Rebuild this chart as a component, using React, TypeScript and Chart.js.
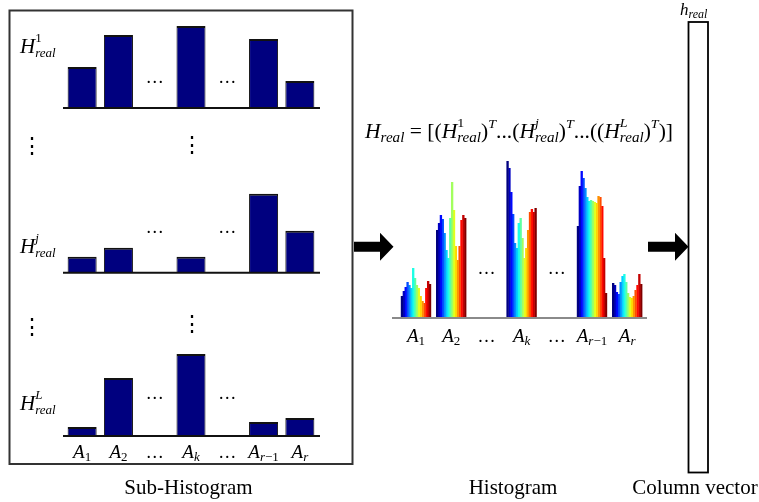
import React, { useEffect, useRef } from "react";
import { Chart, registerables } from "chart.js";

Chart.register(...registerables);

const W = 759;
const H = 502;
const SERIF = '"Liberation Serif", "Times New Roman", serif';

// ---- data ----
const categories = ["A1", "A2", "…", "Ak", "…", "Ar-1", "Ar"];
const tickMain = ["A", "A", "…", "A", "…", "A", "A"];
const tickSub = ["1", "2", "", "k", "", "r−1", "r"];

const hist1 = [41, 73, null, 82, null, 69, 27];
const histJ = [16, 25, null, 16, null, 79, 42];
const histL = [9, 58, null, 82, null, 14, 18];

const groupA1 = [22, 27, 31, 36, 33, 30, 50, 40, 33, 30, 22, 17, 15, 30, 37, 34];
const groupA2 = [88, 95, 103, 99, 85, 68, 60, 100, 136, 108, 72, 58, 72, 98, 103, 100];
const groupAk = [157, 150, 126, 104, 75, 70, 95, 100, 80, 60, 70, 88, 106, 109, 106, 110];
const groupAr1 = [92, 132, 147, 140, 130, 121, 117, 118, 117, 116, 115, 122, 121, 112, 60, 25];
const groupAr = [35, 33, 26, 24, 36, 42, 44, 36, 25, 21, 20, 22, 28, 33, 44, 34];

const groups = [groupA1, groupA2, null, groupAk, null, groupAr1, groupAr];

// ---- helpers ----
function jet(t: number) {
  const c = (v: number) => Math.max(0, Math.min(1, v));
  const r = c(1.5 - Math.abs(4 * t - 3));
  const g = c(1.5 - Math.abs(4 * t - 2));
  const b = c(1.5 - Math.abs(4 * t - 1));
  return `rgb(${Math.round(r * 255)},${Math.round(g * 255)},${Math.round(b * 255)})`;
}

type Run = { t: string; size: number; italic?: boolean; dy?: number; stack?: boolean };

function font(size: number, italic?: boolean) {
  return `${italic ? "italic " : ""}${size}px ${SERIF}`;
}

function runsWidth(ctx: CanvasRenderingContext2D, runs: Run[]) {
  let x = 0;
  let pending = 0;
  for (const r of runs) {
    ctx.font = font(r.size, r.italic);
    const w = ctx.measureText(r.t).width;
    if (r.stack) {
      pending = w;
    } else {
      x += Math.max(w, pending);
      pending = 0;
    }
  }
  return x + pending;
}

function drawRuns(ctx: CanvasRenderingContext2D, runs: Run[], x: number, y: number) {
  let pending = 0;
  for (const r of runs) {
    ctx.font = font(r.size, r.italic);
    const w = ctx.measureText(r.t).width;
    ctx.fillText(r.t, x, y + (r.dy || 0));
    if (r.stack) {
      pending = w;
    } else {
      x += Math.max(w, pending);
      pending = 0;
    }
  }
}

function subRuns(s: string, size: number, dy: number): Run[] {
  return s.split("").map((ch) => ({ t: ch, size, dy, italic: /[a-z]/i.test(ch) }));
}

function hLabel(sup: string, supItalic: boolean): Run[] {
  return [
    { t: "H", size: 21, italic: true },
    { t: sup, size: 13, italic: supItalic, dy: -11, stack: true },
    { t: "real", size: 13, italic: true, dy: 4 },
  ];
}

// ---- plugins ----
const decorPlugin = {
  id: "decor",
  afterDatasetsDraw(chart: any, _args: any, opts: any) {
    const { ctx, chartArea } = chart;
    const xs = chart.scales.x;
    const ys = chart.scales.y;
    ctx.save();
    const y0 = ys.getPixelForValue(0);
    ctx.strokeStyle = opts.axisColor;
    ctx.lineWidth = opts.axisWidth;
    ctx.beginPath();
    ctx.moveTo(chartArea.left - opts.extL, y0);
    ctx.lineTo(chartArea.right + opts.extR, y0);
    ctx.stroke();

    ctx.fillStyle = "#000";
    ctx.textAlign = "center";
    ctx.textBaseline = "alphabetic";
    ctx.font = font(18);
    (opts.dotSlots || []).forEach((i: number) => {
      ctx.fillText("…", xs.getPixelForValue(i), ys.getPixelForValue(opts.dotsLevel));
    });

    if (opts.ticks) {
      ctx.textAlign = "left";
      tickMain.forEach((m, i) => {
        const cx = xs.getPixelForValue(i);
        if (m === "…") {
          ctx.font = font(18);
          const w = ctx.measureText("…").width;
          ctx.fillText("…", cx - w / 2, opts.tickBaseline);
          return;
        }
        const runs: Run[] = [{ t: m, size: 19, italic: true }, ...subRuns(tickSub[i], 13, 3)];
        const w = runsWidth(ctx, runs);
        drawRuns(ctx, runs, cx - w / 2, opts.tickBaseline);
      });
    }
    ctx.restore();
  },
};

const framePlugin = {
  id: "frame",
  afterDraw(chart: any) {
    const ctx: CanvasRenderingContext2D = chart.ctx;
    ctx.save();
    ctx.fillStyle = "#000";
    ctx.textAlign = "left";
    ctx.textBaseline = "alphabetic";

    // left box
    ctx.strokeStyle = "#333";
    ctx.lineWidth = 2;
    ctx.strokeRect(9.5, 10.5, 343, 453.5);

    // H labels
    drawRuns(ctx, hLabel("1", false), 20, 53);
    drawRuns(ctx, hLabel("j", true), 20, 253);
    drawRuns(ctx, hLabel("L", true), 20, 410);

    // vertical dots
    ctx.font = `22px "DejaVu Serif"`;
    ctx.textAlign = "center";
    ctx.textBaseline = "middle";
    ctx.fillText("⋮", 32, 147);
    ctx.fillText("⋮", 192, 146);
    ctx.fillText("⋮", 32, 328);
    ctx.fillText("⋮", 192, 325);
    ctx.textAlign = "left";
    ctx.textBaseline = "alphabetic";

    // arrows
    const arrow = (x0: number, x1: number, x2: number, yc: number) => {
      ctx.beginPath();
      ctx.moveTo(x0, yc - 5);
      ctx.lineTo(x1, yc - 5);
      ctx.lineTo(x1, yc - 14);
      ctx.lineTo(x2, yc);
      ctx.lineTo(x1, yc + 14);
      ctx.lineTo(x1, yc + 5);
      ctx.lineTo(x0, yc + 5);
      ctx.closePath();
      ctx.fill();
    };
    arrow(354, 380, 393.5, 246.7);
    arrow(648, 675, 688.5, 246.7);

    // formula
    const formula: Run[] = [
      { t: "H", size: 20, italic: true },
      { t: "real", size: 14, italic: true, dy: 4 },
      { t: " = [(", size: 20 },
      { t: "H", size: 20, italic: true },
      { t: "1", size: 13, dy: -11, stack: true },
      { t: "real", size: 14, italic: true, dy: 4 },
      { t: ")", size: 20 },
      { t: "T", size: 13, italic: true, dy: -10 },
      { t: "...(", size: 20 },
      { t: "H", size: 20, italic: true },
      { t: "j", size: 13, italic: true, dy: -11, stack: true },
      { t: "real", size: 14, italic: true, dy: 4 },
      { t: ")", size: 20 },
      { t: "T", size: 13, italic: true, dy: -10 },
      { t: "...((", size: 20 },
      { t: "H", size: 20, italic: true },
      { t: "L", size: 13, italic: true, dy: -11, stack: true },
      { t: "real", size: 14, italic: true, dy: 4 },
      { t: ")", size: 20 },
      { t: "T", size: 13, italic: true, dy: -10 },
      { t: ")]", size: 20 },
    ];
    const fw = runsWidth(ctx, formula);
    ctx.save();
    ctx.translate(365, 138);
    ctx.scale(308 / fw, 1);
    drawRuns(ctx, formula, 0, 0);
    ctx.restore();

    // column vector
    ctx.strokeStyle = "#000";
    ctx.lineWidth = 1.8;
    ctx.strokeRect(688.5, 22, 19.5, 450.5);
    drawRuns(
      ctx,
      [
        { t: "h", size: 17, italic: true },
        { t: "real", size: 12, italic: true, dy: 3 },
      ],
      680,
      15
    );

    // captions
    ctx.textAlign = "center";
    ctx.font = font(21);
    ctx.fillText("Sub-Histogram", 188.5, 494);
    ctx.fillText("Histogram", 513, 493.5);
    ctx.fillText("Column vector", 695, 493.5);
    ctx.restore();
  },
};

// ---- configs ----
function subConfig(values: (number | null)[], axisY: number, dotsLevel: number, ticks: boolean) {
  return {
    type: "bar" as const,
    data: {
      labels: categories,
      datasets: [
        {
          data: values,
          backgroundColor: "#00007f",
          borderColor: "#121212",
          borderWidth: { top: 2, left: 1, right: 1, bottom: 0 },
          categoryPercentage: 0.8,
          barPercentage: 1,
        },
      ],
    },
    options: {
      responsive: false,
      animation: false as const,
      layout: { padding: { left: 64, right: W - 318, top: axisY - 90, bottom: H - axisY } },
      scales: {
        x: { display: false, offset: true },
        y: { display: false, min: 0, max: 90 },
      },
      plugins: {
        legend: { display: false },
        tooltip: { enabled: false },
        decor: {
          axisColor: "#111",
          axisWidth: 2,
          extL: 1,
          extR: 2,
          dotSlots: [2, 4],
          dotsLevel,
          ticks,
          tickBaseline: 458,
        },
      },
    },
    plugins: [decorPlugin],
  };
}

function mainConfig() {
  const n = groupA1.length;
  const datasets = Array.from({ length: n }, (_, i) => ({
    data: groups.map((g) => (g ? g[i] : null)),
    backgroundColor: jet(i / (n - 1)),
    borderWidth: 0,
    categoryPercentage: 0.85,
    barPercentage: 1.25,
  }));
  const axisY = 318;
  return {
    type: "bar" as const,
    data: { labels: categories, datasets },
    options: {
      responsive: false,
      animation: false as const,
      layout: { padding: { left: 398.4, right: W - 644.8, top: axisY - 160, bottom: H - axisY } },
      scales: {
        x: { display: false, offset: true },
        y: { display: false, min: 0, max: 160 },
      },
      plugins: {
        legend: { display: false },
        tooltip: { enabled: false },
        decor: {
          axisColor: "#8a8a8a",
          axisWidth: 2,
          extL: 6.4,
          extR: 2.2,
          dotSlots: [2, 4],
          dotsLevel: 44,
          ticks: true,
          tickBaseline: 341.5,
        },
      },
    },
    plugins: [decorPlugin, framePlugin],
  };
}

function ChartCanvas({ make }: { make: () => any }) {
  const ref = useRef<HTMLCanvasElement | null>(null);
  useEffect(() => {
    if (!ref.current) return;
    const chart = new Chart(ref.current, make());
    return () => chart.destroy();
  }, []);
  return (
    <canvas
      ref={ref}
      width={W}
      height={H}
      style={{ position: "absolute", left: 0, top: 0, width: W, height: H }}
    />
  );
}

export default function App() {
  return (
    <div
      style={{
        position: "absolute",
        left: 0,
        top: 0,
        width: W,
        height: H,
        background: "#fff",
        overflow: "hidden",
      }}
    >
      <ChartCanvas make={() => subConfig(hist1, 108, 25, false)} />
      <ChartCanvas make={() => subConfig(histJ, 272.7, 40, false)} />
      <ChartCanvas make={() => subConfig(histL, 436, 37, true)} />
      <ChartCanvas make={mainConfig} />
    </div>
  );
}
